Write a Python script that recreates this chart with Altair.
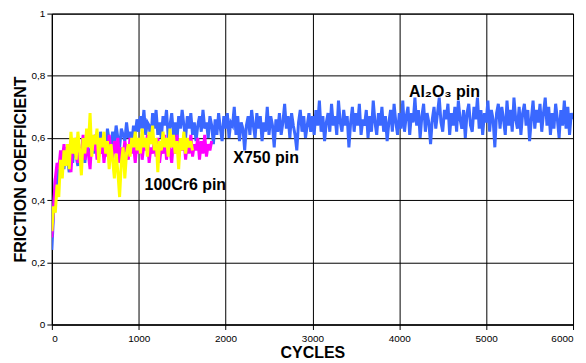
import altair as alt
import pandas as pd

# Al2O3 pin (blue), one value every 20 cycles, 0..6000
blue_step = 20
blue_vals = [
    0.24, 0.36, 0.47, 0.44, 0.52, 0.49, 0.55, 0.50, 0.57, 0.53,
    0.49, 0.56, 0.52, 0.58, 0.54, 0.51, 0.57, 0.55, 0.60, 0.52,
    0.58, 0.56, 0.53, 0.59, 0.55, 0.61, 0.57, 0.54, 0.62, 0.58,
    0.60, 0.55, 0.63, 0.59, 0.57, 0.62, 0.58, 0.64, 0.60, 0.57,
    0.63, 0.61, 0.59, 0.65, 0.60, 0.62, 0.58, 0.64, 0.61, 0.66,
    0.62, 0.67, 0.63, 0.69, 0.61, 0.65, 0.64, 0.59, 0.68, 0.63,
    0.69, 0.61, 0.65, 0.60, 0.67, 0.64, 0.69, 0.60, 0.64, 0.68,
    0.61, 0.65, 0.59, 0.67, 0.63, 0.69, 0.64, 0.60, 0.67, 0.63,
    0.68, 0.61, 0.65, 0.59, 0.64, 0.67, 0.62, 0.69, 0.63, 0.65,
    0.60, 0.67, 0.64, 0.58, 0.66, 0.61, 0.68, 0.63, 0.59, 0.67,
    0.63, 0.68, 0.60, 0.65, 0.64, 0.70, 0.61, 0.67, 0.59, 0.65,
    0.63, 0.56, 0.64, 0.67, 0.61, 0.69, 0.64, 0.60, 0.68, 0.63,
    0.67, 0.59, 0.65, 0.62, 0.70, 0.61, 0.67, 0.64, 0.57, 0.66,
    0.62, 0.68, 0.61, 0.65, 0.71, 0.63, 0.67, 0.60, 0.68, 0.64,
    0.61, 0.56, 0.65, 0.69, 0.62, 0.67, 0.60, 0.64, 0.68, 0.62,
    0.67, 0.61, 0.69, 0.64, 0.72, 0.62, 0.67, 0.59, 0.65, 0.68,
    0.62, 0.71, 0.64, 0.67, 0.61, 0.72, 0.65, 0.62, 0.69, 0.64,
    0.67, 0.57, 0.65, 0.70, 0.62, 0.68, 0.64, 0.71, 0.61, 0.66,
    0.64, 0.69, 0.60, 0.67, 0.62, 0.72, 0.65, 0.61, 0.68, 0.64,
    0.70, 0.62, 0.67, 0.59, 0.65, 0.69, 0.62, 0.71, 0.65, 0.61,
    0.68, 0.63, 0.72, 0.62, 0.67, 0.70, 0.61, 0.68, 0.65, 0.73,
    0.64, 0.69, 0.60, 0.67, 0.71, 0.62, 0.68, 0.65, 0.58, 0.66,
    0.70, 0.63, 0.68, 0.73, 0.65, 0.62, 0.69, 0.66, 0.71, 0.61,
    0.68, 0.64, 0.70, 0.62, 0.72, 0.66, 0.63, 0.69, 0.60, 0.68,
    0.71, 0.64, 0.62, 0.70, 0.66, 0.73, 0.63, 0.69, 0.61, 0.68,
    0.65, 0.72, 0.62, 0.69, 0.66, 0.57, 0.68, 0.71, 0.63, 0.70,
    0.66, 0.61, 0.72, 0.64, 0.69, 0.62, 0.73, 0.66, 0.63, 0.70,
    0.61, 0.68, 0.71, 0.64, 0.69, 0.59, 0.66, 0.72, 0.63, 0.69,
    0.65, 0.71, 0.62, 0.68, 0.73, 0.64, 0.70, 0.61, 0.68, 0.63,
    0.71, 0.66, 0.60, 0.69, 0.64, 0.72, 0.63, 0.70, 0.61, 0.68,
    0.66,
]

# X750 pin (magenta), one value every 20 cycles, 0..1840
magenta_step = 20
magenta_vals = [
    0.28, 0.38, 0.47, 0.52, 0.50, 0.56, 0.53, 0.58, 0.51, 0.57,
    0.54, 0.49, 0.58, 0.55, 0.60, 0.52, 0.57, 0.54, 0.61, 0.53,
    0.58, 0.55, 0.50, 0.59, 0.56, 0.61, 0.53, 0.57, 0.55, 0.60,
    0.52, 0.58, 0.54, 0.61, 0.56, 0.53, 0.59, 0.55, 0.60, 0.52,
    0.57, 0.54, 0.59, 0.56, 0.53, 0.60, 0.55, 0.58, 0.52, 0.59,
    0.55, 0.60, 0.53, 0.58, 0.56, 0.61, 0.52, 0.57, 0.55, 0.59,
    0.54, 0.60, 0.52, 0.57, 0.55, 0.61, 0.53, 0.58, 0.56, 0.52,
    0.59, 0.55, 0.61, 0.54, 0.58, 0.56, 0.60, 0.53, 0.59, 0.55,
    0.61, 0.54, 0.58, 0.56, 0.60, 0.53, 0.59, 0.55, 0.61, 0.54,
    0.58, 0.56, 0.59,
]

# 100Cr6 pin (yellow), one value every 20 cycles, 0..1620
yellow_step = 20
yellow_vals = [
    0.30, 0.38, 0.36, 0.45, 0.41, 0.53, 0.47, 0.56, 0.51, 0.58,
    0.50, 0.62, 0.55, 0.60, 0.53, 0.62, 0.56, 0.48, 0.60, 0.55,
    0.63, 0.57, 0.68, 0.54, 0.61, 0.58, 0.63, 0.52, 0.60, 0.57,
    0.62, 0.55, 0.59, 0.50, 0.58, 0.53, 0.47, 0.55, 0.49, 0.41,
    0.52, 0.57, 0.47, 0.55, 0.58, 0.54, 0.60, 0.57, 0.62, 0.56,
    0.60, 0.55, 0.63, 0.57, 0.60, 0.54, 0.62, 0.58, 0.64, 0.56,
    0.60, 0.49, 0.59, 0.56, 0.62, 0.57, 0.60, 0.54, 0.63, 0.57,
    0.61, 0.55, 0.59, 0.50, 0.60, 0.56, 0.62, 0.55, 0.60, 0.57,
    0.59, 0.56,
]

labels = ["Al₂O₃ pin", "X750 pin", "100Cr6 pin"]
label_x = [4520, 2467, 1537]
label_y = [0.747, 0.535, 0.449]

series_names = ["Al2O3", "X750", "100Cr6"]
colors = ["#3A68FF", "#FF00FF", "#FFFF00"]

rows = []
for k, (name, step, vals) in enumerate([("Al2O3", blue_step, blue_vals),
                                        ("X750", magenta_step, magenta_vals),
                                        ("100Cr6", yellow_step, yellow_vals)]):
    for i, v in enumerate(vals):
        rows.append({"series": name, "ord": k, "cycles": i * step, "cof": v})
df = pd.DataFrame(rows)

x_scale = alt.Scale(domain=[0, 6000], nice=False)
y_scale = alt.Scale(domain=[0, 1], nice=False)

lines = alt.Chart(df).mark_line(strokeWidth=3, clip=True).encode(
    x=alt.X("cycles:Q", scale=x_scale,
            axis=alt.Axis(values=[0, 1000, 2000, 3000, 4000, 5000, 6000], title="CYCLES",
                          labelFontSize=10, titleFontSize=16, titleFontWeight="bold",
                          titlePadding=1, labelPadding=4, format="d")),
    y=alt.Y("cof:Q", scale=y_scale,
            axis=alt.Axis(values=[0, 0.2, 0.4, 0.6, 0.8, 1.0], title="FRICTION COEFFICIENT",
                          labelExpr="replace(format(datum.value, '~g'), '.', ',')",
                          labelFontSize=10, titleFontSize=16, titleFontWeight="bold",
                          titlePadding=3, labelPadding=2)),
    color=alt.Color("series:N", scale=alt.Scale(domain=series_names, range=colors), legend=None),
    detail="series:N",
    order=alt.Order("cycles:Q"),
)

lab_df = pd.DataFrame({"text": labels, "x": label_x, "y": label_y})
texts = alt.Chart(lab_df).mark_text(fontSize=16, fontWeight="bold", color="#000000").encode(
    x=alt.X("x:Q", scale=x_scale), y=alt.Y("y:Q", scale=y_scale), text="text:N"
)

chart = alt.layer(lines, texts).properties(
    width=523, height=312,
    autosize=alt.AutoSizeParams(type="none"),
    padding={"left": 44, "top": 5, "right": 5, "bottom": 40},
).configure_axis(
    domainColor="#000000", tickColor="#000000", gridColor="#000000", gridOpacity=1,
    labelColor="#000000", titleColor="#000000", labelFont="Liberation Sans", titleFont="Liberation Sans",
    tickSize=5,
).configure_view(stroke="#000000", strokeWidth=1).configure_text(font="Liberation Sans")

chart.save("out.html", embed_options={"renderer": "svg", "actions": False})
